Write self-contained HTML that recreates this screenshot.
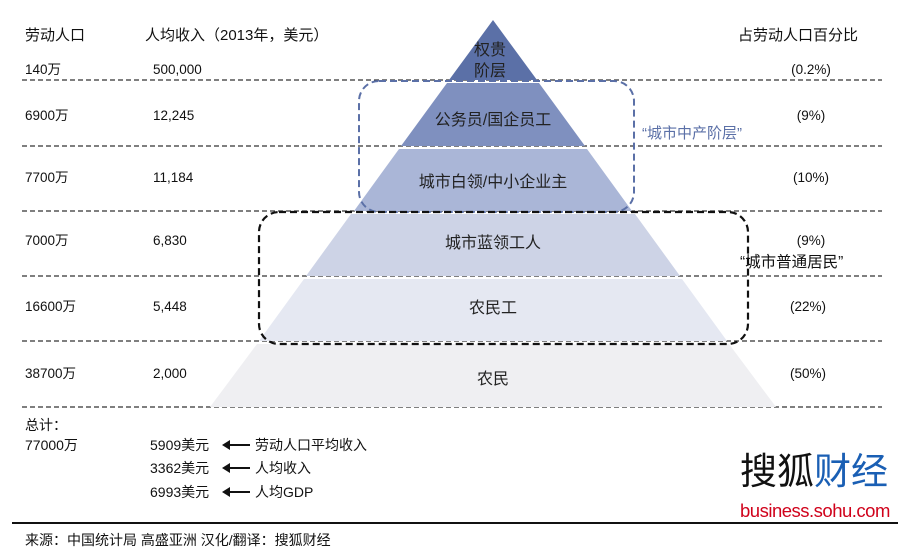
<!DOCTYPE html>
<html><head><meta charset="utf-8"><style>
html,body{margin:0;padding:0;background:#fff;}
svg{display:block;font-family:"Liberation Sans","Noto Sans CJK SC",sans-serif;}
</style></head><body>
<svg width="915" height="556" viewBox="0 0 915 556" xmlns="http://www.w3.org/2000/svg">
<g stroke="#333" stroke-width="1.3" stroke-dasharray="5,3" fill="none">
<line x1="22" y1="80" x2="882" y2="80"/>
<line x1="22" y1="146" x2="882" y2="146"/>
<line x1="22" y1="211" x2="882" y2="211"/>
<line x1="22" y1="276" x2="882" y2="276"/>
<line x1="22" y1="341" x2="882" y2="341"/>
<line x1="22" y1="407" x2="882" y2="407"/>
</g>
<polygon points="493,20 537,80 449,80" fill="#5b70a7"/>
<polygon points="447,83 539,83 585,146 401,146" fill="#7f90bf"/>
<polygon points="399,149 587,149 632,211 354,211" fill="#aab6d7"/>
<polygon points="351,214 635,214 680,276 306,276" fill="#cdd3e6"/>
<polygon points="304,279 682,279 727,341 259,341" fill="#e5e8f2"/>
<polygon points="257,344 729,344 776,407 210,407" fill="#efeff2"/>
<rect x="359" y="81" width="275" height="131" rx="20" fill="none" stroke="#5b70a7" stroke-width="2" stroke-dasharray="7,4"/>
<rect x="259" y="212" width="489" height="132" rx="20" fill="none" stroke="#111" stroke-width="2.2" stroke-dasharray="7,4"/>
<g font-size="16" fill="#222" text-anchor="middle">
<text x="490" y="55">权贵</text><text x="490" y="76">阶层</text>
<text x="493" y="125">公务员/国企员工</text>
<text x="493" y="187">城市白领/中小企业主</text>
<text x="493" y="248">城市蓝领工人</text>
<text x="493" y="313">农民工</text>
<text x="493" y="384">农民</text>
</g>
<g font-size="15" fill="#111">
<text x="25" y="40">劳动人口</text>
<text x="145" y="40">人均收入（2013年，美元）</text>
<text x="738" y="40">占劳动人口百分比</text>
</g>
<g font-size="13.5" fill="#111">
<text x="25" y="74">140万</text><text x="153" y="74">500,000</text>
<text x="25" y="120">6900万</text><text x="153" y="120">12,245</text>
<text x="25" y="182">7700万</text><text x="153" y="182">11,184</text>
<text x="25" y="245">7000万</text><text x="153" y="245">6,830</text>
<text x="25" y="311">16600万</text><text x="153" y="311">5,448</text>
<text x="25" y="378">38700万</text><text x="153" y="378">2,000</text>
</g>
<g font-size="13.5" fill="#111" text-anchor="middle">
<text x="811" y="74">(0.2%)</text>
<text x="811" y="120">(9%)</text>
<text x="811" y="182">(10%)</text>
<text x="811" y="245">(9%)</text>
<text x="808" y="311">(22%)</text>
<text x="808" y="378">(50%)</text>
</g>
<text x="642" y="138" font-size="15" fill="#5b70a7">“城市中产阶层”</text>
<text x="740" y="267" font-size="15.5" fill="#111">“城市普通居民”</text>
<g font-size="14" fill="#111">
<text x="25" y="430">总计：</text>
<text x="25" y="450">77000万</text>
<text x="150" y="450">5909美元</text><text x="255" y="450">劳动人口平均收入</text>
<text x="150" y="473">3362美元</text><text x="255" y="473">人均收入</text>
<text x="150" y="497">6993美元</text><text x="255" y="497">人均GDP</text>
</g>
<g stroke="#111" stroke-width="2" fill="#111">
<line x1="228" y1="445" x2="250" y2="445"/><polygon points="222,445 230,440 230,450" stroke="none"/>
<line x1="228" y1="468" x2="250" y2="468"/><polygon points="222,468 230,463 230,473" stroke="none"/>
<line x1="228" y1="492" x2="250" y2="492"/><polygon points="222,492 230,487 230,497" stroke="none"/>
</g>
<text x="740" y="484" font-size="37" fill="#111" font-family="'Noto Sans CJK SC',sans-serif">搜狐<tspan fill="#1a5fb4">财经</tspan></text>
<text x="740" y="517" font-size="18.5" fill="#d0021b" letter-spacing="-0.5">business.sohu.com</text>
<line x1="12" y1="523" x2="898" y2="523" stroke="#111" stroke-width="2"/>
<text x="25" y="545" font-size="14" fill="#111">来源：中国统计局 高盛亚洲  汉化/翻译：搜狐财经</text>
</svg>
</body></html>
